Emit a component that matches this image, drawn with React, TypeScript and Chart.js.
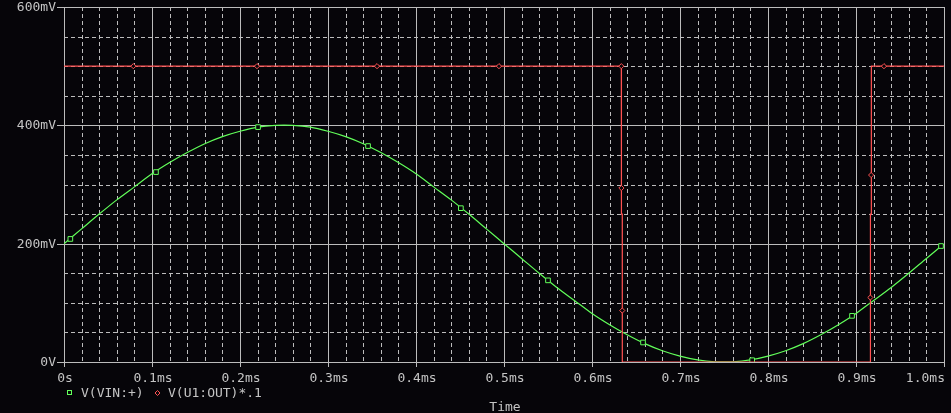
import React, { useEffect, useRef } from 'react';
import { Chart, registerables } from 'chart.js';

Chart.register(...registerables);

// ---- data (time in ms, voltage in mV) ----
const vinTimes = [
  0, 0.02, 0.04, 0.06, 0.08, 0.1, 0.12, 0.14, 0.16, 0.18, 0.2, 0.22, 0.24, 0.26, 0.28, 0.3,
  0.32, 0.34, 0.36, 0.38, 0.4, 0.42, 0.44, 0.46, 0.48, 0.5, 0.52, 0.54, 0.56, 0.58, 0.6,
  0.62, 0.64, 0.66, 0.68, 0.7, 0.72, 0.74, 0.76, 0.78, 0.8, 0.82, 0.84, 0.86, 0.88, 0.9,
  0.92, 0.94, 0.96, 0.98, 0.997,
];
const vinValues = [
  200, 225, 250, 274, 296, 318, 337, 354, 369, 381, 390, 397, 400, 400, 397, 390,
  381, 369, 354, 337, 318, 296, 274, 250, 225, 200, 175, 150, 126, 104, 82,
  63, 46, 31, 19, 10, 3.5, 0.4, 0.4, 3.5, 10, 19, 31, 46, 63, 82,
  104, 126, 150, 175, 196,
];
const vinMarkerTimes = [0.0072, 0.1045, 0.2205, 0.3455, 0.451, 0.55, 0.658, 0.782, 0.8955, 0.9966];
const vinMarkerValues = [208, 321, 397, 365, 260, 138, 33, 3, 78, 196];

const outTimes = [0, 0.6333, 0.6334, 0.6335, 0.6344, 0.6344, 0.6345, 0.9163, 0.9163, 0.9165, 0.9174, 0.9174, 0.9175, 1.0];
const outValues = [500, 500, 294, 250, 250, 87, 0, 0, 109, 250, 250, 316, 500, 500];
const outMarkerTimes = [0.0788, 0.2193, 0.3557, 0.4943, 0.6333, 0.6334, 0.6344, 0.9163, 0.9172, 0.9318];
const outMarkerValues = [500, 500, 500, 500, 500, 294, 87, 109, 316, 500];

const xTickValues = [0, 0.1, 0.2, 0.3, 0.4, 0.5, 0.6, 0.7, 0.8, 0.9, 1.0];
const xTickLabels = ['0s', '0.1ms', '0.2ms', '0.3ms', '0.4ms', '0.5ms', '0.6ms', '0.7ms', '0.8ms', '0.9ms', '1.0ms'];
const yTickValues = [0, 200, 400, 600];
const yTickLabels = ['0V', '200mV', '400mV', '600mV'];
const xMinorStep = 0.02;
const yMinorStep = 50;

const seriesNames = ['V(VIN:+)', 'V(U1:OUT)*.1'];
const xTitle = 'Time';

const BG = '#060509';
const GRID = '#bcbcbc';
const TEXT = '#c4c4c4';
const GREEN = '#62ff5a';
const RED = '#ff5252';
const FONT = '13px "DejaVu Sans Mono", "Liberation Mono", monospace';

const pts = (xs: number[], ys: number[]) => xs.map((x, i) => ({ x, y: ys[i] }));

const pspicePlugin = {
  id: 'pspice',
  beforeDraw(chart: any) {
    const ctx = chart.ctx;
    ctx.save();
    ctx.fillStyle = BG;
    ctx.fillRect(0, 0, chart.width, chart.height);
    ctx.restore();
  },
  beforeDatasetsDraw(chart: any) {
    const ctx = chart.ctx;
    const xs = chart.scales.x;
    const ys = chart.scales.y;
    const { left, right, top, bottom } = chart.chartArea;
    const cx = (v: number) => Math.round(xs.getPixelForValue(v)) + 0.5;
    const cy = (v: number) => Math.round(ys.getPixelForValue(v)) + 0.5;
    ctx.save();
    ctx.lineWidth = 1;
    ctx.strokeStyle = GRID;
    // minor dashed
    ctx.setLineDash([4, 3]);
    const nX = Math.round((xs.max - xs.min) / xMinorStep);
    for (let i = 1; i < nX; i++) {
      const v = xs.min + i * xMinorStep;
      if (xTickValues.some((t) => Math.abs(t - v) < 1e-6)) continue;
      const px = cx(v);
      ctx.beginPath();
      ctx.moveTo(px, top);
      ctx.lineTo(px, bottom);
      ctx.stroke();
    }
    const nY = Math.round((ys.max - ys.min) / yMinorStep);
    for (let i = 1; i < nY; i++) {
      const v = ys.min + i * yMinorStep;
      if (yTickValues.some((t) => Math.abs(t - v) < 1e-6)) continue;
      const py = cy(v);
      ctx.beginPath();
      ctx.moveTo(left, py);
      ctx.lineTo(right, py);
      ctx.stroke();
    }
    // major solid
    ctx.setLineDash([]);
    xTickValues.forEach((v) => {
      const px = cx(v);
      ctx.beginPath();
      ctx.moveTo(px, top);
      ctx.lineTo(px, bottom + 5);
      ctx.stroke();
    });
    yTickValues.forEach((v) => {
      const py = cy(v);
      ctx.beginPath();
      ctx.moveTo(left - 7, py);
      ctx.lineTo(right, py);
      ctx.stroke();
    });
    ctx.restore();
  },
  afterDraw(chart: any) {
    const ctx = chart.ctx;
    const xs = chart.scales.x;
    const ys = chart.scales.y;
    const { left, right, bottom } = chart.chartArea;
    ctx.save();
    ctx.font = FONT;
    ctx.fillStyle = TEXT;
    // y labels
    ctx.textAlign = 'right';
    ctx.textBaseline = 'middle';
    yTickValues.forEach((v, i) => {
      ctx.fillText(yTickLabels[i], left - 8, ys.getPixelForValue(v) + 0.5);
    });
    // x labels
    xTickValues.forEach((v, i) => {
      const px = xs.getPixelForValue(v);
      const w = ctx.measureText(xTickLabels[i]).width;
      let x = px - w / 2 + 1;
      if (x + w > right + 1) x = right + 1 - w;
      ctx.textAlign = 'left';
      ctx.fillText(xTickLabels[i], x, bottom + 16.5);
    });
    // legend
    const ly = bottom + 31;
    ctx.textAlign = 'left';
    ctx.lineWidth = 1;
    ctx.strokeStyle = GREEN;
    ctx.strokeRect(67.5, ly - 2.5, 4, 4);
    ctx.fillText(seriesNames[0], 81, ly + 0.5);
    ctx.strokeStyle = RED;
    ctx.beginPath();
    ctx.moveTo(157.5, ly - 2.5);
    ctx.lineTo(160, ly);
    ctx.lineTo(157.5, ly + 2.5);
    ctx.lineTo(155, ly);
    ctx.closePath();
    ctx.stroke();
    ctx.fillText(seriesNames[1], 168, ly + 0.5);
    // axis title
    ctx.textAlign = 'center';
    ctx.fillText(xTitle, 505, bottom + 45.5);
    ctx.restore();
  },
};

export default function App() {
  const ref = useRef<HTMLCanvasElement | null>(null);
  useEffect(() => {
    if (!ref.current) return;
    const chart = new Chart(ref.current, {
      type: 'line',
      data: {
        datasets: [
          {
            label: 'out markers',
            data: pts(outMarkerTimes, outMarkerValues),
            showLine: false,
            pointStyle: 'rectRot',
            pointRadius: 2.6,
            pointBorderWidth: 1,
            pointBorderColor: RED,
            pointBackgroundColor: BG,
            order: 0,
          },
          {
            label: seriesNames[1],
            data: pts(outTimes, outValues),
            borderColor: RED,
            borderWidth: 1.2,
            pointRadius: 0,
            fill: false,
            tension: 0,
            order: 1,
          },
          {
            label: 'vin markers',
            data: pts(vinMarkerTimes, vinMarkerValues),
            showLine: false,
            pointStyle: 'rect',
            pointRadius: 3.3,
            pointBorderWidth: 1,
            pointBorderColor: GREEN,
            pointBackgroundColor: BG,
            order: 2,
          },
          {
            label: seriesNames[0],
            data: pts(vinTimes, vinValues),
            borderColor: GREEN,
            borderWidth: 1.2,
            pointRadius: 0,
            fill: false,
            tension: 0.3,
            order: 3,
          },
        ],
      },
      options: {
        animation: false,
        responsive: false,
        events: [],
        layout: { padding: { left: 64, right: 7, top: 7, bottom: 51 } },
        plugins: { legend: { display: false }, tooltip: { enabled: false } },
        scales: {
          x: { type: 'linear', min: 0, max: 1.0, display: false },
          y: { type: 'linear', min: 0, max: 600, display: false },
        },
      },
      plugins: [pspicePlugin],
    } as any);
    return () => chart.destroy();
  }, []);
  return (
    <div style={{ position: 'absolute', left: 0, top: 0, width: 951, height: 413, background: BG }}>
      <canvas ref={ref} width={951} height={413} style={{ display: 'block', width: 951, height: 413 }} />
    </div>
  );
}
